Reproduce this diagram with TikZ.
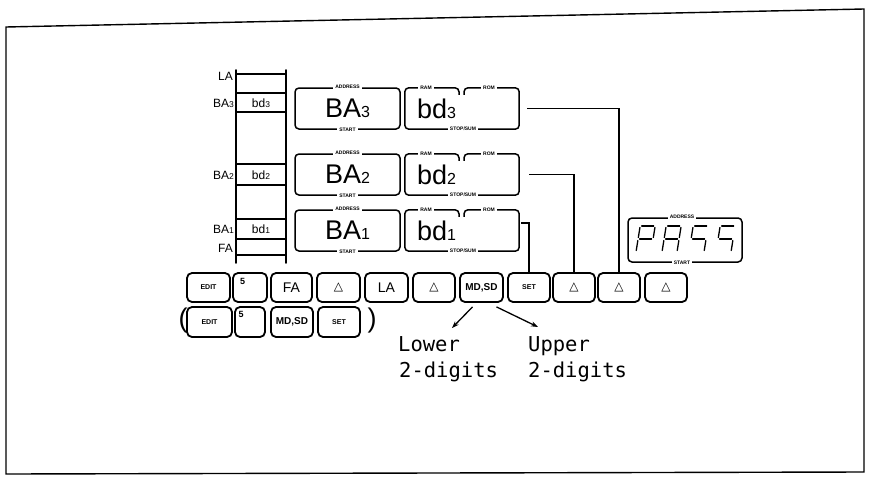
\documentclass[tikz,border=0pt]{standalone}
\usepackage{fontspec}
\setmainfont{Liberation Sans}
\newfontfamily\monofont{DejaVu Sans Mono}
\newfontfamily\symfont{DejaVu Sans}
\usetikzlibrary{arrows.meta,calc}
\newcommand\mysub[1]{{\fontsize{16}{16}\selectfont #1}}
\newcommand\lsub[1]{{\fontsize{8.5}{8.5}\selectfont #1}}
\newcommand\tri{{\symfont\bfseries\fontsize{12}{12}\selectfont △}}
\tikzset{
  ln/.style={line width=1.6pt, line cap=round},
  key/.style={draw, line width=1.8pt, rounded corners=5pt, minimum height=29pt, inner sep=0pt},
  disp/.style={line width=1.5pt, rounded corners=4pt},
  addrbox/.style={draw, disp, minimum width=105pt, minimum height=41pt, inner sep=0pt, font=\fontsize{27}{27}\selectfont},
  databox/.style={minimum width=114pt, minimum height=41pt, inner sep=0pt},
  bigtxt/.style={font=\fontsize{27}{27}\selectfont, inner sep=0pt, anchor=base west},
  tinylab/.style={fill=white, inner xsep=2pt, inner ysep=0.6pt, font=\fontsize{5}{5}\selectfont\bfseries},
  ladlab/.style={font=\fontsize{12}{12}\selectfont, inner sep=0pt},
  keytiny/.style={font=\fontsize{7}{7}\selectfont\bfseries},
  keymid/.style={font=\fontsize{14}{14}\selectfont},
  conn/.style={line width=1.7pt},
  seg/.style={line width=1.3pt, line cap=round},
  mono/.style={font=\monofont\fontsize{20.5}{20.5}\selectfont, inner sep=0pt, anchor=base west},
  arr/.style={line width=1.3pt, -{Stealth[length=7pt,width=5pt]}}
}
\newcommand\segA{\draw[seg] (1.5,-26) -- (13.5,-26);}
\newcommand\segB{\draw[seg] (15,-24.5) -- (15,-14.5);}
\newcommand\segC{\draw[seg] (15,-11.5) -- (15,-1.5);}
\newcommand\segD{\draw[seg] (1.5,0) -- (13.5,0);}
\newcommand\segE{\draw[seg] (0,-1.5) -- (0,-11.5);}
\newcommand\segF{\draw[seg] (0,-14.5) -- (0,-24.5);}
\newcommand\segG{\draw[seg] (1.5,-13) -- (13.5,-13);}
\begin{document}
\begin{tikzpicture}[x=1pt,y=-1pt]
\useasboundingbox (0,0) rectangle (872,482);
% frame
\draw[line width=1.4pt] (6,27) -- (864,9) -- (864,472) -- (6,474) -- cycle;

% ladder
\draw[ln] (236,70) -- (236,263);
\draw[ln] (286,70) -- (286,263);
\foreach \y in {74,93,112,164,185,219,239,255} \draw[ln] (236,\y) -- (286,\y);
\node[ladlab, anchor=east] (lLA) at (233,76) {LA};
\node[ladlab, anchor=east] (lB3) at (234,103) {BA\lsub{3}};
\node[ladlab, anchor=east] (lB2) at (234,175) {BA\lsub{2}};
\node[ladlab, anchor=east] (lB1) at (234,229) {BA\lsub{1}};
\node[ladlab, anchor=east] (lFA) at (233,248) {FA};
\node[ladlab] (c3) at (261,103) {bd\lsub{3}};
\node[ladlab] (c2) at (261,175) {bd\lsub{2}};
\node[ladlab] (c1) at (261,229) {bd\lsub{1}};

% display rows
\foreach \r/\y in {3/108.5,2/174.5,1/230.5}{
  \node[addrbox] (a\r) at (347.5,\y) {BA\mysub{\r}};
  \node[tinylab] at (a\r.north) {ADDRESS};
  \node[tinylab] at (a\r.south) {START};
  \node[databox] (d\r) at (462,\y) {};
  \draw[disp] ($(d\r.north)+(-3,7)$) -- ($(d\r.north)+(-3,0)$) -- (d\r.north west) -- (d\r.south west) -- (d\r.south east) -- (d\r.north east) -- ($(d\r.north)+(2,0)$) -- ($(d\r.north)+(2,7)$);
  \node[tinylab] at ($(d\r.north)+(-36,0)$) {RAM};
  \node[tinylab] at ($(d\r.north)+(27,0)$) {ROM};
  \node[tinylab] at ($(d\r.south)+(1,0)$) {STOP/SUM};
  \node[bigtxt] (t\r) at ($(d\r.west)+(12,10)$) {bd\mysub{\r}};
}

% keys row 1
\node[key, minimum width=43pt] (k1) at (208.5,287.5) {};
\node[keytiny] at (k1) {EDIT};
\node[key, minimum width=34pt] (k2) at (250,287.5) {};
\node[font=\fontsize{9}{9}\selectfont\bfseries, inner sep=0pt] (k2t) at (242.5,281) {5};
\node[key, minimum width=41pt, keymid] (k3) at (291.5,287.5) {FA};
\node[key, minimum width=43pt] (k4) at (338.5,287.5) {\tri};
\node[key, minimum width=43pt, keymid] (k5) at (386.5,287.5) {LA};
\node[key, minimum width=42pt] (k6) at (434,287.5) {\tri};
\node[key, minimum width=43pt, font=\fontsize{10}{10}\selectfont\bfseries] (k7) at (481.5,287.5) {MD,SD};
\node[key, minimum width=42pt] (k8) at (529,287.5) {};
\node[keytiny] at (k8) {SET};
\node[key, minimum width=42pt] (k9) at (574,287.5) {\tri};
\node[key, minimum width=42pt] (k10) at (619,287.5) {\tri};
\node[key, minimum width=42pt] (k11) at (666,287.5) {\tri};

% keys row 2
\node[font=\fontsize{27}{27}\selectfont, inner sep=0pt] (pl) at (183,321) {(};
\node[key, minimum width=45pt, minimum height=30pt] (m1) at (209.5,322) {};
\node[keytiny] at (m1) {EDIT};
\node[key, minimum width=30pt, minimum height=30pt] (m2) at (250,322) {};
\node[font=\fontsize{9}{9}\selectfont\bfseries, inner sep=0pt] (m2t) at (241,314) {5};
\node[key, minimum width=42pt, minimum height=30pt, font=\fontsize{10}{10}\selectfont\bfseries] (m3) at (292,322) {MD,SD};
\node[key, minimum width=42pt, minimum height=30pt] (m4) at (339,322) {};
\node[keytiny] at (m4) {SET};
\node[font=\fontsize{27}{27}\selectfont, inner sep=0pt] (pr) at (372,321) {)};

% connectors
\draw[conn] ([xshift=8pt]d3.east) -| (k10.north);
\draw[conn] ([xshift=10pt]d2.east) -| (k9.north);
\draw[conn] ($(d1.north east)+(2,13)$) -| (k8.north);

% PASS display
\node[draw, disp, minimum width=114pt, minimum height=44pt] (pbox) at (685,240) {};
\node[tinylab] at ($(pbox.north)+(-3,0)$) {ADDRESS};
\node[tinylab] at ($(pbox.south)+(-3,0)$) {START};
\begin{scope}[shift={(636,252)}, xslant=0.16] \segA\segB\segF\segG\segE \end{scope}
\begin{scope}[shift={(662,252)}, xslant=0.16] \segA\segB\segC\segE\segF\segG \end{scope}
\begin{scope}[shift={(689,252)}, xslant=0.16] \segA\segF\segG\segC \end{scope}
\begin{scope}[shift={(716,252)}, xslant=0.16] \segA\segF\segG\segC \end{scope}

% digits text and arrows
\node[mono] (lo1) at (398,351) {Lower};
\node[mono] (lo2) at (399,377) {2-digits};
\node[mono] (up1) at (528,351) {Upper};
\node[mono] (up2) at (528,377) {2-digits};
\coordinate (lotip) at (452,328);
\coordinate (uptip) at (538,327);
\draw[arr] ([xshift=-9pt,yshift=-4pt]k7.south) -- (lotip);
\draw[arr] ([xshift=15pt,yshift=-4pt]k7.south) -- (uptip);
\end{tikzpicture}
\end{document}
